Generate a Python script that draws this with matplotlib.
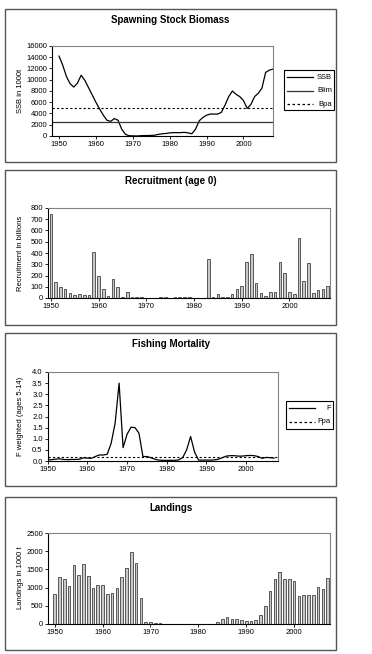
import matplotlib
matplotlib.use("Agg")
import matplotlib.pyplot as plt
from matplotlib.lines import Line2D
from matplotlib.patches import Rectangle
from matplotlib.ticker import FormatStrFormatter

plt.rcParams["font.family"] = ["Liberation Sans", "DejaVu Sans"]

W, H = 372, 654

# --- data ---
ssb_years = list(range(1950, 2009))
ssb = [14200, 12600, 10600, 9300, 8700, 9400, 10800, 9900, 8600, 7300,
       6000, 4800, 3700, 2800, 2600, 3100, 2800, 1200, 300, 50,
       30, 0, 50, 80, 80, 100, 150, 300, 400, 450,
       550, 600, 600, 600, 650, 550, 400, 1200, 2700, 3300,
       3700, 3900, 3900, 3900, 4200, 5500, 7000, 8000, 7400, 7000,
       6300, 4900, 5600, 7000, 7600, 8500, 11300, 11700, 11900]
blim = 2500
bpa = 5000

rec_years = list(range(1950, 2009))
recruitment = [750, 145, 100, 82, 45, 30, 38, 30, 30, 410,
               200, 80, 20, 168, 95, 8, 55, 5, 8, 8,
               3, 0, 0, 10, 6, 0, 8, 8, 8, 12,
               3, 0, 0, 345, 12, 40, 8, 8, 32, 78,
               110, 322, 388, 132, 45, 22, 57, 57, 318, 222,
               52, 36, 535, 153, 310, 48, 72, 78, 105]

f_years = list(range(1950, 2008))
f_mort = [0.05, 0.06, 0.08, 0.10, 0.07, 0.06, 0.07, 0.07, 0.08, 0.14,
          0.13, 0.12, 0.20, 0.27, 0.27, 0.30, 0.80, 1.70, 3.50, 0.60,
          1.20, 1.52, 1.50, 1.25, 0.20, 0.20, 0.15, 0.08, 0.04, 0.03,
          0.03, 0.03, 0.03, 0.05, 0.15, 0.50, 1.10, 0.40, 0.04, 0.04,
          0.04, 0.04, 0.05, 0.08, 0.15, 0.22, 0.24, 0.24, 0.22, 0.22,
          0.24, 0.25, 0.24, 0.20, 0.12, 0.16, 0.15, 0.13]
fpa = 0.2

land_years = list(range(1950, 2008))
landings = [820, 1280, 1250, 1050, 1630, 1350, 1650, 1305, 985, 1085,
            1085, 830, 845, 985, 1280, 1535, 1965, 1680, 725, 55,
            55, 20, 20, 0, 0, 10, 10, 10, 10, 10,
            10, 10, 10, 10, 55, 150, 205, 125, 140, 100,
            83, 85, 100, 235, 485, 900, 1225, 1415, 1230, 1245,
            1195, 763, 805, 790, 805, 1005, 955, 1265]

decades = [1950, 1960, 1970, 1980, 1990, 2000]

fig = plt.figure(figsize=(W / 100, H / 100), dpi=100)
fig.patch.set_facecolor("white")


def px_axes(x0, y0, x1, y1):
    return fig.add_axes([x0 / W, 1 - y1 / H, (x1 - x0) / W, (y1 - y0) / H])


def panel_box(y0, y1, title, ty):
    fig.add_artist(Rectangle((5 / W, 1 - y1 / H), 331 / W, (y1 - y0) / H,
                             transform=fig.transFigure, fill=False,
                             edgecolor="#555555", linewidth=1.0))
    fig.text(170.5 / W, 1 - ty / H, title, ha="center", va="center",
             fontsize=7, fontweight="bold")


def style(ax, ylabel, ycenter):
    for s in ("top", "right"):
        ax.spines[s].set_color("#808080")
        ax.spines[s].set_linewidth(0.8)
    for s in ("left", "bottom"):
        ax.spines[s].set_color("black")
        ax.spines[s].set_linewidth(0.8)
    ax.tick_params(labelsize=5.5, length=2, width=0.6, pad=1.5)
    ax.set_xticks(decades)
    fig.text(20.5 / W, 1 - ycenter / H, ylabel, rotation=90, ha="center",
             va="center", fontsize=5.5)


def legend_box(x0, y0, x1, y1, entries):
    fig.add_artist(Rectangle((x0 / W, 1 - y1 / H), (x1 - x0) / W, (y1 - y0) / H,
                             transform=fig.transFigure, fill=False,
                             edgecolor="black", linewidth=0.8))
    for label, ly, color, ls in entries:
        fig.add_artist(Line2D([(x0 + 3) / W, (x0 + 29) / W], [1 - ly / H, 1 - ly / H],
                              transform=fig.transFigure, color=color,
                              linestyle=ls, linewidth=0.9))
        fig.text((x1 - 2) / W, 1 - ly / H, label, ha="right", va="center",
                 fontsize=5.5)


# Spawning stock biomass
panel_box(9, 162, "Spawning Stock Biomass", 20)
ax1 = px_axes(52, 46, 273, 136)
ax1.plot(ssb_years, ssb, color="black", linewidth=0.9)
ax1.axhline(blim, color="#333333", linewidth=0.9)
ax1.axhline(bpa, color="black", linewidth=0.8, linestyle=(0, (2, 2)))
ax1.set_xlim(1948.1, 2008)
ax1.set_ylim(0, 16000)
ax1.set_yticks(range(0, 16001, 2000))
style(ax1, "SSB in 1000t", 91)
legend_box(284, 70, 334, 110, [("SSB", 77.3, "black", "-"),
                               ("Blim", 90.7, "#333333", "-"),
                               ("Bpa", 104, "black", (0, (2, 2)))])

# Recruitment
panel_box(170, 325, "Recruitment (age 0)", 181)
ax2 = px_axes(48, 208, 330, 298)
ax2.bar(rec_years, recruitment, width=0.55, color="#c8c8c8",
        edgecolor="#222222", linewidth=0.5)
ax2.set_xlim(1949.4, 2008.5)
ax2.set_ylim(0, 800)
ax2.set_yticks(range(0, 801, 100))
style(ax2, "Recruitment in billions", 253)

# Fishing mortality
panel_box(333, 486, "Fishing Mortality", 344)
ax3 = px_axes(47.6, 372, 278, 461)
ax3.plot(f_years, f_mort, color="black", linewidth=0.9)
ax3.axhline(fpa, color="black", linewidth=0.8, linestyle=(0, (2, 2)))
ax3.set_xlim(1950, 2008)
ax3.set_ylim(0, 4.0)
ax3.set_yticks([i * 0.5 for i in range(9)])
ax3.yaxis.set_major_formatter(FormatStrFormatter("%.1f"))
style(ax3, "F weighted (ages 5-14)", 416)
legend_box(286, 401, 333, 429, [("F", 408.3, "black", "-"),
                                ("Fpa", 421.7, "black", (0, (2, 2)))])

# Landings
panel_box(497, 650, "Landings", 508)
ax4 = px_axes(48, 533, 330, 624)
ax4.bar(land_years, landings, width=0.55, color="#c8c8c8",
        edgecolor="#222222", linewidth=0.5)
ax4.set_xlim(1948.6, 2007.5)
ax4.set_ylim(0, 2500)
ax4.set_yticks(range(0, 2501, 500))
style(ax4, "Landings in 1000 t", 578)

fig.savefig("out.png", dpi=100)
